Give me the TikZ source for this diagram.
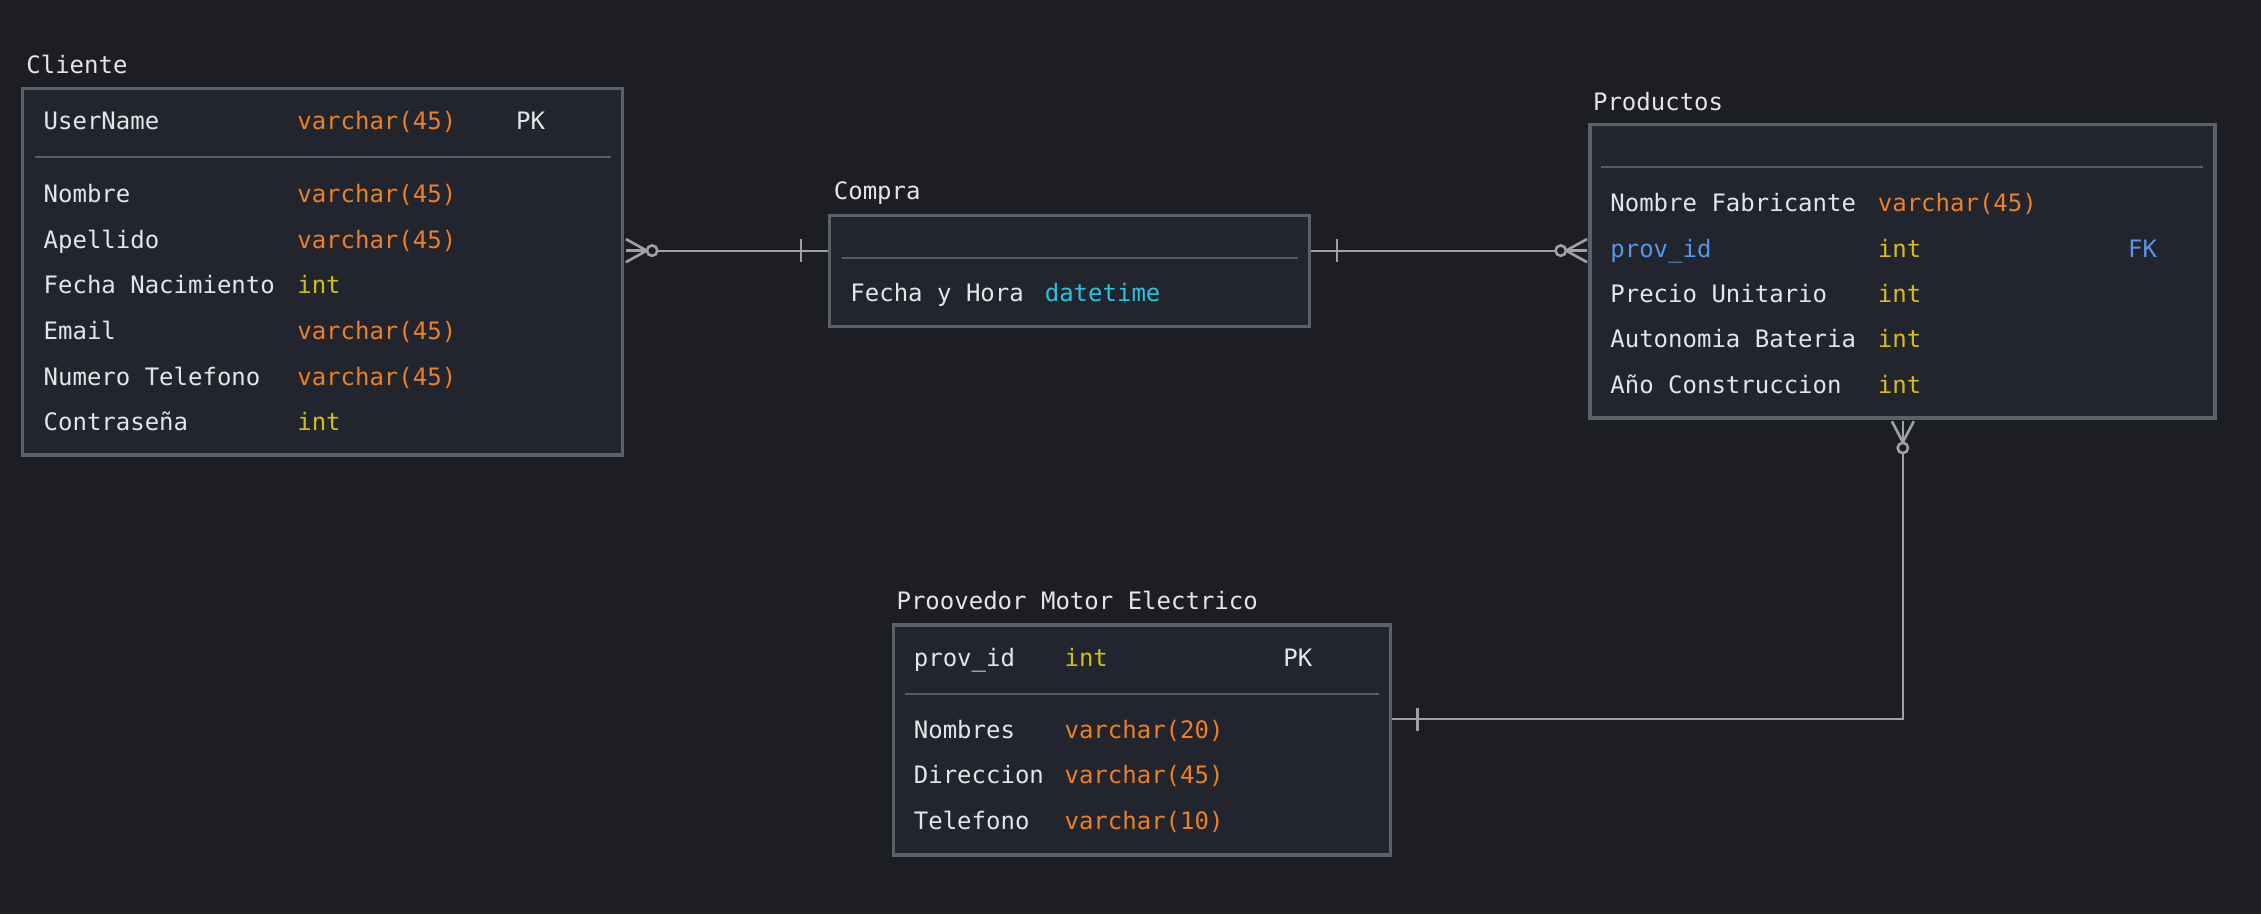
\documentclass[tikz,border=0pt]{standalone}
\usepackage{fontspec}
\setmonofont{DejaVu Sans Mono}
\usetikzlibrary{calc, fit, positioning}
\definecolor{bgcol}{RGB}{29, 30, 35}
\definecolor{tblcol}{RGB}{34, 37, 45}
\definecolor{edgecol}{RGB}{92, 96, 107}
\definecolor{sepcol}{RGB}{88, 92, 102}
\definecolor{relcol}{RGB}{160, 161, 166}
\definecolor{txtcol}{RGB}{228, 229, 232}
\definecolor{varcol}{RGB}{236, 128, 38}
\definecolor{intcol}{RGB}{212, 190, 20}
\definecolor{datecol}{RGB}{38, 196, 224}
\definecolor{fkcol}{RGB}{88, 148, 236}
\newcommand\erfont{\ttfamily\fontsize{12}{14}\selectfont}
\tikzset{
  tbl/.style     = {draw=edgecol, fill=tblcol, line width=1.7pt, inner sep=0pt},
  tblname/.style = {anchor=base west, inner sep=0pt, text=txtcol, font=\erfont},
  fld/.style     = {anchor=base west, inner sep=0pt, text=txtcol, font=\erfont},
  sep/.style     = {draw=sepcol, line width=0.9pt},
  % relationship lines and their crow's feet
  rel/.style     = {draw=relcol, line width=1pt},
  foot/.style    = {draw=relcol, line width=1.3pt},
  zero/.style    = {foot, fill=bgcol},
}

\begin{document}
\begin{tikzpicture}[x=0.721pt, y=-0.721pt]

  \fill[bgcol] (0,0) rectangle (1568,634);
  \useasboundingbox (0,0) rectangle (1568,634);

  %% ---------------- Cliente ----------------
  \node[tbl, fit={(15.5,61.3)(431.9,315.5)}] (cli) {};
  \node[tblname] (cli-t) at (18,50.8) {Cliente};
  \draw[sep] (24.1,109.1) -- (423.5,109.1);
  \node[fld] (cli-pk) at (30,90) {UserName};
  \node[fld, text=varcol] (cli-pkt) at (205.9,90) {varchar(45)};
  \node[fld] (cli-pkk) at (357.6,90) {PK};
  \foreach \n/\t/\c [count=\i] in {Nombre/varchar(45)/varcol,
      Apellido/varchar(45)/varcol, Fecha Nacimiento/int/intcol,
      Email/varchar(45)/varcol, Numero Telefono/varchar(45)/varcol,
      Contraseña/int/intcol} {
    \node[fld] (cli-n\i) at (30, 140.5 + \i*31.65 - 31.65) {\n};
    \node[fld, text=\c] (cli-t\i) at (205.9, 140.5 + \i*31.65 - 31.65) {\t};
  }

  %% ---------------- Compra ----------------
  \node[tbl, fit={(575.3,149.6)(908.3,226.5)}] (com) {};
  \node[tblname] (com-t) at (578,138.7) {Compra};
  \draw[sep] (584,178.7) -- (900,178.7);
  \node[fld] (com-n1) at (589.5,209.2) {Fecha y Hora};
  \node[fld, text=datecol] (com-t1) at (724.3,209.2) {datetime};

  %% ---------------- Productos ----------------
  \node[tbl, fit={(1102.7,86.2)(1536,290)}] (pro) {};
  \node[tblname] (pro-t) at (1104.5,76.3) {Productos};
  \draw[sep] (1110.4,115.6) -- (1528,115.6);
  \foreach \n/\k/\t/\c [count=\i] in {Nombre Fabricante/txtcol/varchar(45)/varcol,
      prov\_id/fkcol/int/intcol, Precio Unitario/txtcol/int/intcol,
      Autonomia Bateria/txtcol/int/intcol, Año Construccion/txtcol/int/intcol} {
    \node[fld, text=\k] (pro-n\i) at (1116.5, 146.8 + \i*31.5 - 31.5) {\n};
    \node[fld, text=\c] (pro-t\i) at (1302, 146.8 + \i*31.5 - 31.5) {\t};
  }
  \node[fld, text=fkcol] (pro-fk) at (1475.5,178.3) {FK};

  %% ---------------- Proovedor Motor Electrico ----------------
  \node[tbl, fit={(619.6,433.4)(964.2,593)}] (pmo) {};
  \node[tblname] (pmo-t) at (621.5,423) {Proovedor Motor Electrico};
  \draw[sep] (627.5,481.3) -- (956.3,481.3);
  \node[fld] (pmo-pk) at (633.5,462.3) {prov\_id};
  \node[fld, text=intcol] (pmo-pkt) at (738,462.3) {int};
  \node[fld] (pmo-pkk) at (889.8,462.3) {PK};
  \foreach \n/\t [count=\i] in {Nombres/varchar(20), Direccion/varchar(45),
      Telefono/varchar(10)} {
    \node[fld] (pmo-n\i) at (633.5, 512 + \i*31.55 - 31.55) {\n};
    \node[fld, text=varcol] (pmo-t\i) at (738, 512 + \i*31.55 - 31.55) {\t};
  }

  %% ---------------- relationships ----------------
  \coordinate (cli-r) at ([xshift=0.7pt]cli.east |- 0,173.8);
  \coordinate (com-l) at (com.west |- 0,173.8);
  \coordinate (com-r) at (com.east |- 0,173.8);
  \coordinate (pro-l) at ([xshift=-0.7pt]pro.west |- 0,173.8);
  \coordinate (pro-b) at ([yshift=-0.7pt]pro.south -| 1319.6,0);
  \coordinate (pmo-r) at (pmo.east |- 0,498.8);

  % Cliente >o----|- Compra
  \draw[rel] (cli-r) -- (com-l);
  \draw[foot] ($(cli-r)+(0,-8)$) -- ++(14.5,8) -- ++(-14.5,8);
  \draw[foot] (cli-r) -- ++(14.5,0);
  \draw[zero] ($(cli-r)+(18.2,0)$) circle[radius=3.6];
  \draw[foot] ($(com-l)+(-18.6,-7.8)$) -- ++(0,15.6);

  % Compra -|----o< Productos
  \draw[rel] (com-r) -- (pro-l);
  \draw[foot] ($(com-r)+(17.7,-7.8)$) -- ++(0,15.6);
  \draw[foot] ($(pro-l)+(0,-8)$) -- ++(-14.5,8) -- ++(14.5,8);
  \draw[foot] (pro-l) -- ++(-14.5,0);
  \draw[zero] ($(pro-l)+(-18.2,0)$) circle[radius=3.6];

  % Productos >o----|- Proovedor Motor Electrico
  \draw[rel] (pro-b) |- (pmo-r);
  \draw[foot] ($(pro-b)+(-7.6,0)$) -- ++(7.6,14.5) -- ++(7.6,-14.5);
  \draw[foot] (pro-b) -- ++(0,14.5);
  \draw[zero] ($(pro-b)+(0,18.5)$) circle[radius=3.6];
  \draw[foot] ($(pmo-r)+(17.6,-7.8)$) -- ++(0,15.6);

\end{tikzpicture}
\end{document}
